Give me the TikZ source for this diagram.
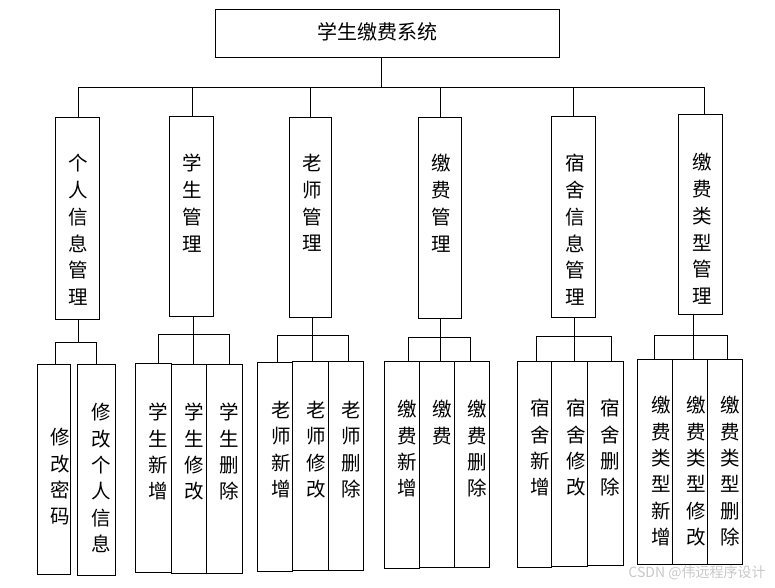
\documentclass[tikz,border=0pt]{standalone}
\usepackage{fontspec}
\newfontfamily\cjk{Noto Sans CJK SC}
\usetikzlibrary{positioning}
\definecolor{inkblack}{RGB}{0,0,0}
\definecolor{markgrey}{RGB}{200,200,200}

\begin{document}
\begin{tikzpicture}[
    x=1pt, y=-1pt,
    every node/.style={text=inkblack},
    box/.style={draw=inkblack, line width=1pt, rectangle, anchor=north west, inner sep=0pt},
    rootbox/.style={box, minimum width=344pt, minimum height=48pt},
    modbox/.style={box, minimum width=44pt, minimum height=201pt},
    leafbox/.style={box, minimum width=35pt, minimum height=208pt},
    roottxt/.style={inner sep=0pt, font=\cjk\fontsize{20}{24}\selectfont},
    modtxt/.style={inner sep=0pt, anchor=north, align=center, font=\cjk\fontsize{19.5}{26.8}\selectfont},
    leaftxt/.style={inner sep=0pt, anchor=north, align=center, font=\cjk\fontsize{19.5}{26.4}\selectfont},
    link/.style={draw=inkblack, line width=1pt},
]
\useasboundingbox (0,0) rectangle (775,587);

% ----------------------------------------------------------------- root ---
\node[rootbox] (root) at (215,9) {};
\node[roottxt] (troot) at (377,32) {学生缴费系统};

% -------------------------------------------------------------- modules ---
\node[modbox, minimum height=202pt] (b1) at (55,117) {};
\node[modbox, minimum height=200pt] (b2) at (169,116) {};
\node[modbox, minimum width=42pt, minimum height=200pt] (b3) at (289,117) {};
\node[modbox, minimum width=43pt] (b4) at (418,117) {};
\node[modbox] (b5) at (551,116) {};
\node[modbox, minimum height=200pt] (b6) at (678,114) {};

\node[modtxt] (t1) at (78.5,154) {个\\人\\信\\息\\管\\理};
\node[modtxt] (t2) at (192.5,154) {学\\生\\管\\理};
\node[modtxt] (t3) at (312.5,154) {老\\师\\管\\理};
\node[modtxt] (t4) at (441,154) {缴\\费\\管\\理};
\node[modtxt] (t5) at (575,154) {宿\\舍\\信\\息\\管\\理};
\node[modtxt] (t6) at (702.5,153) {缴\\费\\类\\型\\管\\理};

% root -> modules
\coordinate (bus) at (381,87);
\coordinate (k1) at (78,87);
\coordinate (k2) at (192,87);
\coordinate (k3) at (310,87);
\coordinate (k4) at (440,87);
\coordinate (k5) at (573,87);
\coordinate (k6) at (704,87);
\draw[link] (root.south -| bus) -- (bus);
\draw[link] (k1) -- (k6);
\foreach \i in {1,...,6}
  \draw[link] (k\i) -- (k\i |- b\i.north);

% ---------------------------------------------------------------- leaves ---
\node[leafbox, minimum width=33pt, minimum height=210pt] (c11) at (37,364) {};
\node[leafbox, minimum width=38pt, minimum height=211pt] (c12) at (77,364) {};

\node[leafbox, minimum width=36pt, minimum height=209pt] (c21) at (135,363) {};
\node[leafbox, minimum height=209pt] (c22) at (171,364) {};
\node[leafbox, minimum width=36pt, minimum height=209pt] (c23) at (206,364) {};

\node[leafbox, minimum height=209pt] (c31) at (257,362) {};
\node[leafbox, minimum width=36pt, minimum height=209pt] (c32) at (292,361) {};
\node[leafbox, minimum height=209pt] (c33) at (328,361) {};

\node[leafbox, minimum height=207pt] (c41) at (384,361) {};
\node[leafbox, minimum height=206pt] (c42) at (419,361) {};
\node[leafbox, minimum height=206pt] (c43) at (454,361) {};

\node[leafbox, minimum width=34pt, minimum height=206pt] (c51) at (517,361) {};
\node[leafbox, minimum width=36pt, minimum height=205pt] (c52) at (551,361) {};
\node[leafbox, minimum width=36pt, minimum height=204pt] (c53) at (587,361) {};

\node[leafbox, minimum height=205pt] (c61) at (637,359) {};
\node[leafbox, minimum height=205pt] (c62) at (672,359) {};
\node[leafbox, minimum height=205pt] (c63) at (707,359) {};

\node[leaftxt] (s11) at (60.5,428) {修\\改\\密\\码};
\node[leaftxt] (s12) at (101,403) {修\\改\\个\\人\\信\\息};
\node[leaftxt] (s21) at (158.5,403) {学\\生\\新\\增};
\node[leaftxt] (s22) at (194.5,403) {学\\生\\修\\改};
\node[leaftxt] (s23) at (229.5,403) {学\\生\\删\\除};
\node[leaftxt] (s31) at (281,401) {老\\师\\新\\增};
\node[leaftxt] (s32) at (316.5,401) {老\\师\\修\\改};
\node[leaftxt] (s33) at (351.5,401) {老\\师\\删\\除};
\node[leaftxt] (s41) at (407,400) {缴\\费\\新\\增};
\node[leaftxt] (s42) at (442,400) {缴\\费};
\node[leaftxt] (s43) at (477.5,400) {缴\\费\\删\\除};
\node[leaftxt] (s51) at (540,399) {宿\\舍\\新\\增};
\node[leaftxt] (s52) at (576,399) {宿\\舍\\修\\改};
\node[leaftxt] (s53) at (610,399) {宿\\舍\\删\\除};
\node[leaftxt] (s61) at (661,396) {缴\\费\\类\\型\\新\\增};
\node[leaftxt] (s62) at (696,396) {缴\\费\\类\\型\\修\\改};
\node[leaftxt] (s63) at (730,396) {缴\\费\\类\\型\\删\\除};

% modules -> leaves
\coordinate (m1) at (78,342);  \coordinate (l1) at (55,342);  \coordinate (r1) at (96,342);
\coordinate (m2) at (193,334); \coordinate (l2) at (158,334); \coordinate (r2) at (229,334);
\coordinate (m3) at (312,335); \coordinate (l3) at (277,335); \coordinate (r3) at (348,335);
\coordinate (m4) at (440,337); \coordinate (l4) at (408,337); \coordinate (r4) at (470,337);
\coordinate (m5) at (574,336); \coordinate (l5) at (536,336); \coordinate (r5) at (611,336);
\coordinate (m6) at (693,335); \coordinate (l6) at (654,335); \coordinate (r6) at (727,335);

\draw[link] (m1 |- b1.south) -- (m1);
\draw[link] (l1) -- (r1);
\draw[link] (l1) -- (l1 |- c11.north);
\draw[link] (r1) -- (r1 |- c12.north);

\foreach \g in {2,...,6} {
  \draw[link] (m\g |- b\g.south) -- (m\g |- c\g2.north);
  \draw[link] (l\g) -- (r\g);
  \draw[link] (l\g) -- (l\g |- c\g1.north);
  \draw[link] (r\g) -- (r\g |- c\g3.north);
}

% watermark
\node[text=markgrey, inner sep=0pt, font=\cjk\fontsize{14}{16}\selectfont] (mark) at (697,573) {CSDN @伟远程序设计};

\end{tikzpicture}
\end{document}
